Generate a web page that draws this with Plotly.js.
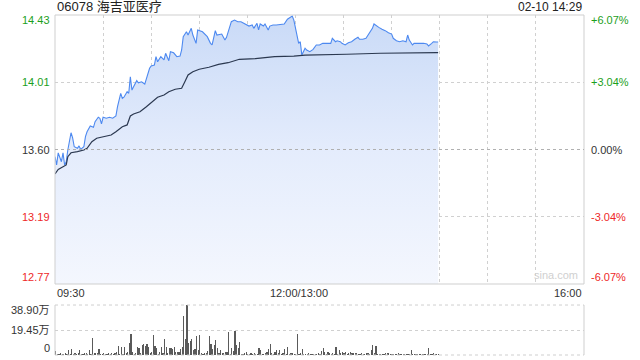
<!DOCTYPE html>
<html>
<head>
<meta charset="utf-8">
<script src="https://cdn.plot.ly/plotly-3.0.1.min.js"></script>
<style>html,body{margin:0;padding:0;background:#fff;}#chart{width:640px;height:360px;}</style>
</head>
<body>
<div id="chart"></div>
<script>
// ---------- DATA ----------
const stockTitle = "06078 海吉亚医疗";
const stampText = "02-10 14:29";
const prevClose = 13.604;
const priceTickLabels = ["14.43", "14.01", "13.60", "13.19", "12.77"];
const pctTickLabels = ["+6.07%", "+3.04%", "0.00%", "-3.04%", "-6.07%"];
const volTickLabels = ["38.90万", "19.45万", "0"];
const xLabels = ["09:30", "12:00/13:00", "16:00"];

const priceTimes = ["09:30","09:31","09:32","09:34","09:35","09:36","09:37","09:38","09:40","09:41","09:42","09:44","09:45","09:46","09:48","09:49","09:50","09:52","09:54","09:55","09:57","09:58","09:59","10:00","10:02","10:04","10:06","10:08","10:09","10:11","10:12","10:13","10:15","10:16","10:17","10:18","10:19","10:21","10:22","10:24","10:26","10:27","10:29","10:30","10:32","10:33","10:34","10:36","10:38","10:39","10:41","10:42","10:44","10:46","10:48","10:49","10:50","10:52","10:53","10:55","10:56","10:58","10:59","11:02","11:04","11:05","11:07","11:08","11:10","11:11","11:14","11:16","11:17","11:19","11:20","11:22","11:24","11:26","11:29","11:31","11:33","11:34","11:36","11:37","11:38","11:40","11:41","11:43","11:44","11:46","11:48","11:51","11:53","11:55","11:57","11:58","11:59","13:01","13:02","13:03","13:04","13:06","13:07","13:09","13:11","13:13","13:15","13:17","13:19","13:22","13:23","13:25","13:26","13:28","13:29","13:31","13:33","13:35","13:37","13:39","13:40","13:42","13:44","13:46","13:48","13:49","13:51","13:52","13:54","13:56","13:58","14:00","14:01","14:03","14:05","14:07","14:09","14:10","14:11","14:13","14:14","14:16","14:18","14:20","14:22","14:23","14:25","14:26","14:28","14:29"];
const prices = [13.560,13.509,13.583,13.529,13.583,13.509,13.529,13.601,13.707,13.675,13.621,13.611,13.626,13.605,13.621,13.683,13.713,13.748,13.740,13.775,13.802,13.796,13.761,13.802,13.796,13.802,13.796,13.810,13.867,13.949,13.918,13.925,13.959,13.949,14.051,13.969,13.990,14.027,14.014,14.020,14.006,14.041,14.103,14.117,14.123,14.174,14.143,14.174,14.154,14.195,14.149,14.205,14.198,14.174,14.178,14.215,14.297,14.327,14.307,14.348,14.307,14.256,14.338,14.327,14.307,14.297,14.256,14.246,14.334,14.307,14.313,14.276,14.293,14.369,14.389,14.399,14.389,14.389,14.375,14.362,14.369,14.348,14.379,14.338,14.375,14.362,14.375,14.338,14.362,14.369,14.369,14.375,14.375,14.404,14.420,14.424,14.399,14.287,14.256,14.266,14.184,14.226,14.215,14.205,14.219,14.246,14.246,14.256,14.256,14.256,14.287,14.266,14.272,14.266,14.256,14.246,14.260,14.266,14.281,14.293,14.281,14.281,14.287,14.318,14.348,14.375,14.358,14.354,14.342,14.334,14.321,14.313,14.287,14.272,14.266,14.272,14.266,14.307,14.276,14.246,14.256,14.256,14.260,14.256,14.252,14.240,14.256,14.266,14.264,14.264];

const avgTimes = ["09:30","09:32","09:35","09:37","09:38","09:40","09:44","09:48","09:50","09:53","09:56","10:00","10:05","10:08","10:12","10:15","10:17","10:19","10:23","10:27","10:31","10:34","10:38","10:41","10:45","10:49","10:51","10:53","10:56","11:00","11:06","11:12","11:18","11:22","11:25","11:35","11:47","11:59","13:01","13:06","13:32","13:53","14:28","14:29"];
const avgPrices = [13.454,13.482,13.498,13.509,13.560,13.584,13.591,13.601,13.611,13.652,13.673,13.683,13.693,13.713,13.744,13.755,13.810,13.822,13.836,13.867,13.898,13.925,13.939,13.959,13.974,13.980,14.020,14.062,14.082,14.097,14.109,14.127,14.137,14.149,14.158,14.162,14.174,14.178,14.180,14.184,14.189,14.195,14.199,14.199];

// volume per minute from 09:30 (unit: 万)
const volumes = [
3.4,0.8,0.5,1.2,0.6,0.9,1.5,0.7,3.9,1.0,
4.4,0.8,1.2,0.6,1.4,3.9,0.8,0.5,1.2,1.6,
0.9,3.9,1.1,13.5,1.2,1.8,1.6,4.7,0.8,0.6,
1.2,0.5,0.9,1.4,0.8,1.6,0.6,1.9,2.0,7.0,
1.0,6.5,0.8,6.5,1.6,2.0,9.6,16.3,2.3,0.9,
1.3,6.5,5.2,1.2,7.8,8.6,7.3,8.3,6.5,1.5,
2.0,15.6,7.0,5.2,0.8,2.5,6.5,1.5,12.4,6.5,
1.4,5.2,5.2,4.4,6.5,2.5,2.6,2.3,4.4,6.5,
30.3,12.2,38.9,9.1,11.1,12.4,3.9,4.4,14.8,3.9,
15.6,1.2,0.9,1.5,1.2,3.4,14.8,8.6,4.7,7.8,
11.7,5.2,1.2,3.9,1.6,1.6,2.0,2.0,18.1,0.8,
5.2,3.4,18.9,7.8,5.2,10.1,0.8,0.8,1.2,2.0,
0.8,0.5,1.2,0.8,1.6,0.8,1.0,5.2,3.9,0.8,
0.8,1.2,2.0,4.4,8.6,1.2,0.8,2.3,3.9,1.2,
3.9,0.8,1.2,4.4,0.8,6.5,0.8,1.2,1.5,0.8,
1.0,16.3,0.8,1.2,4.4,0.8,0.8,0.5,1.2,0.8,
0.5,0.8,0.5,0.8,1.2,0.8,3.4,5.2,2.0,0.8,
2.0,1.2,0.8,1.6,0.8,6.0,0.8,3.9,1.2,2.0,
1.2,2.0,0.8,1.6,2.0,1.6,1.6,1.2,1.6,0.5,
0.8,1.2,0.8,0.8,1.2,1.2,0.8,3.9,7.8,1.2,
7.0,0.8,0.5,0.8,0.5,0.8,1.2,1.2,1.2,0.8,
0.5,0.8,0.8,0.8,1.2,0.5,0.8,0.8,0.5,0.8,
0.8,0.8,3.9,0.8,0.5,0.8,0.8,0.8,0.8,0.8,
0.8,0.5,0.8,5.2,0.8,0.5,1.2,0.8,0.5,0.8];
const volMax = 38.9;

// ---------- helpers ----------
function slot(t){ // trading-minute slot, lunch break skipped
  const [h,m] = t.split(":").map(Number);
  const mins = h*60+m;
  if (mins <= 12*60) return mins - (9*60+30);
  return 150 + (mins - 13*60);
}
const pRange = 14.43 - prevClose;
const yMin = prevClose - pRange, yMax = prevClose + pRange;
const gridVals = [yMax, prevClose + pRange/2, prevClose, prevClose - pRange/2, yMin];

const green = "rgb(28,160,28)", red = "rgb(238,40,40)", dark = "#333";
const labelColors = [green, green, dark, red, red];
const FONT = "Arial, 'Liberation Sans', 'Noto Sans CJK SC', sans-serif";

const px = priceTimes.map(slot);
const ax = avgTimes.map(slot);
const vx = volumes.map((v,i)=> i);

const traces = [
  {x: px, y: prices, type:"scatter", mode:"lines", line:{color:"rgb(77,137,240)", width:1.1},
   fill:"tozeroy", fillgradient:{type:"vertical", start:yMin, stop:yMax,
     colorscale:[[0,"rgb(244,247,254)"],[0.5,"rgb(228,236,252)"],[1,"rgb(201,218,247)"]]},
   xaxis:"x", yaxis:"y", hoverinfo:"skip"},
  {x: ax, y: avgPrices, type:"scatter", mode:"lines", line:{color:"#2b3850", width:1.2},
   xaxis:"x", yaxis:"y", hoverinfo:"skip"},
  {x: vx, y: volumes, type:"bar", marker:{color:"#5a5a5a", line:{width:0}}, width:0.75,
   xaxis:"x2", yaxis:"y2", hoverinfo:"skip"}
];

const annotations = [];
priceTickLabels.forEach((t,i)=>{
  const ys = i===0 ? -5 : (i===4 ? 7 : 0);
  annotations.push({xref:"paper", yref:"y", x:0, y:gridVals[i], text:t, showarrow:false,
    xanchor:"right", yanchor:"middle", xshift:-3, yshift:ys, font:{family:FONT,size:11,color:labelColors[i]}});
  annotations.push({xref:"paper", yref:"y", x:1, y:gridVals[i], text:pctTickLabels[i], showarrow:false,
    xanchor:"left", yanchor:"middle", xshift:5, yshift:ys, font:{family:FONT,size:11,color:labelColors[i]}});
});
const volVals = [volMax, volMax/2, 0];
volTickLabels.forEach((t,i)=>{
  const ys = i===0 ? -5 : (i===2 ? 7 : 0);
  annotations.push({xref:"paper", yref:"y2", x:0, y:volVals[i], text:t, showarrow:false,
    xanchor:"right", yanchor:"middle", xshift:-3, yshift:ys, font:{family:FONT,size:11,color:dark}});
});
annotations.push({xref:"x", yref:"paper", x:0, y:0.2088, text:xLabels[0], showarrow:false,
  xanchor:"left", yanchor:"top", yshift:-1, font:{family:FONT,size:11,color:dark}});
annotations.push({xref:"x", yref:"paper", x:150, y:0.2088, text:xLabels[1], showarrow:false,
  xanchor:"center", yanchor:"top", xshift:4, yshift:-1, font:{family:FONT,size:11,color:dark}});
annotations.push({xref:"x", yref:"paper", x:330, y:0.2088, text:xLabels[2], showarrow:false,
  xanchor:"right", yanchor:"top", yshift:-1, font:{family:FONT,size:11,color:dark}});
annotations.push({xref:"paper", yref:"paper", x:0, y:1, text:stockTitle, showarrow:false,
  xanchor:"left", yanchor:"bottom", yshift:-1, font:{family:FONT,size:13,color:"#222"}});
annotations.push({xref:"paper", yref:"paper", x:1, y:1, text:stampText, showarrow:false,
  xanchor:"right", yanchor:"bottom", yshift:-1, font:{family:FONT,size:12,color:"#222"}});
annotations.push({xref:"paper", yref:"y", x:1, y:yMin, text:"sina.com", showarrow:false,
  xanchor:"right", yanchor:"bottom", xshift:-4, yshift:1, font:{family:FONT,size:11,color:"#d0d0d0"}});

const gridLine = "#d0d0d0";
const shapes = [
  {type:"rect", xref:"paper", yref:"paper", x0:0, x1:1, y0:0.2088, y1:1, line:{color:"#cfcfcf", width:1}},
  {type:"line", xref:"paper", yref:"y", x0:0, x1:1, y0:prevClose, y1:prevClose, line:{color:"#b0b0b0", width:1, dash:"dot"}},
  {type:"line", xref:"paper", yref:"paper", x0:0, x1:0, y0:0, y1:0.147, line:{color:"#cfcfcf", width:1}},
  {type:"line", xref:"paper", yref:"paper", x0:1, x1:1, y0:0, y1:0.147, line:{color:"#cfcfcf", width:1}},
  {type:"line", xref:"paper", yref:"paper", x0:0, x1:1, y0:0.147, y1:0.147, line:{color:"#cfcfcf", width:1, dash:"dot"}},
  {type:"line", xref:"paper", yref:"paper", x0:0, x1:1, y0:0, y1:0, line:{color:"#cfcfcf", width:1, dash:"dot"}}
];

const layout = {
  width:640, height:360,
  margin:{l:55, r:56, t:15, b:5},
  paper_bgcolor:"#fff", plot_bgcolor:"rgba(0,0,0,0)",
  showlegend:false,
  xaxis:{domain:[0,1], range:[0,330], anchor:"y", tickvals:[30,60,90,120,150,180,210,240,270,300],
    showticklabels:false, ticks:"", showgrid:true, gridcolor:gridLine, griddash:"dot", gridwidth:1,
    zeroline:false, showline:false, fixedrange:true},
  yaxis:{domain:[0.2088,1], range:[yMin,yMax], tickvals:[gridVals[1],gridVals[3]], showticklabels:false, ticks:"",
    showgrid:true, gridcolor:gridLine, griddash:"dot", zeroline:false, showline:false},
  xaxis2:{domain:[0,1], range:[-0.5,330], anchor:"y2", showticklabels:false, showgrid:false, zeroline:false, ticks:""},
  yaxis2:{domain:[0,0.147], range:[0,volMax], tickvals:[volMax/2], showticklabels:false, ticks:"",
    showgrid:true, gridcolor:gridLine, griddash:"dot", zeroline:false},
  annotations:annotations, shapes:shapes, bargap:0
};

Plotly.newPlot("chart", traces, layout, {staticPlot:true, displayModeBar:false});
</script>
</body>
</html>
